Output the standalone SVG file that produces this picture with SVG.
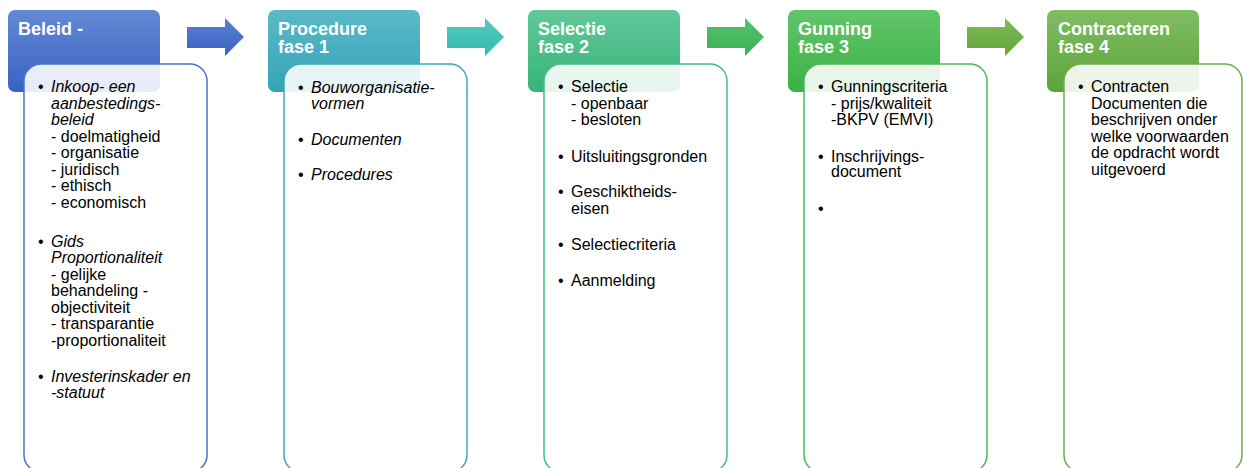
<svg xmlns="http://www.w3.org/2000/svg" width="1243" height="468" viewBox="0 0 1243 468">
<defs>
<linearGradient id="g1" x1="0" y1="0" x2="0" y2="1"><stop offset="0" stop-color="#6389d4"/><stop offset="1" stop-color="#3a62c2"/></linearGradient>
<linearGradient id="g2" x1="0" y1="0" x2="0" y2="1"><stop offset="0" stop-color="#5bb9c9"/><stop offset="1" stop-color="#33a4b5"/></linearGradient>
<linearGradient id="g3" x1="0" y1="0" x2="0" y2="1"><stop offset="0" stop-color="#63c89b"/><stop offset="1" stop-color="#35b479"/></linearGradient>
<linearGradient id="g4" x1="0" y1="0" x2="0" y2="1"><stop offset="0" stop-color="#63c56b"/><stop offset="1" stop-color="#39b143"/></linearGradient>
<linearGradient id="g5" x1="0" y1="0" x2="0" y2="1"><stop offset="0" stop-color="#81bc64"/><stop offset="1" stop-color="#5ca43a"/></linearGradient>
<linearGradient id="a1" x1="0" y1="0" x2="0" y2="1"><stop offset="0" stop-color="#5b82d2"/><stop offset="1" stop-color="#3a62c2"/></linearGradient>
<linearGradient id="a2" x1="0" y1="0" x2="0" y2="1"><stop offset="0" stop-color="#55c9c0"/><stop offset="1" stop-color="#34bcad"/></linearGradient>
<linearGradient id="a3" x1="0" y1="0" x2="0" y2="1"><stop offset="0" stop-color="#55c26f"/><stop offset="1" stop-color="#3cb053"/></linearGradient>
<linearGradient id="a4" x1="0" y1="0" x2="0" y2="1"><stop offset="0" stop-color="#80bb58"/><stop offset="1" stop-color="#64a53a"/></linearGradient>
<path id="arrow" d="M187,27 L225,27 L225,18 L244,37 L225,56 L225,48 L187,48 Z"/>
</defs>
<style>
.hd{stroke:none}
.body{fill:#ffffff;fill-opacity:0.88;stroke-width:1.5}
.ht{font-family:"Liberation Sans",Arial,sans-serif;font-size:18px;font-weight:bold;fill:#ffffff}
.bt{font-family:"Liberation Sans",Arial,sans-serif;font-size:16px;fill:#000000}
.it{font-style:italic}
</style>
<g id="connectors">
<use href="#arrow" fill="url(#a1)"/>
<use href="#arrow" fill="url(#a2)" transform="translate(260,0)"/>
<use href="#arrow" fill="url(#a3)" transform="translate(520,0)"/>
<use href="#arrow" fill="url(#a4)" transform="translate(780,0)"/>
</g>
<g id="beleid">
<rect class="hd" x="8" y="10" width="152" height="82" rx="7" fill="url(#g1)"/>
<text class="ht" x="18" y="35">Beleid -</text>
<rect class="body" x="24" y="64" width="183" height="408" rx="17" stroke="#4a74cc"/>
<g class="bt">
<text x="38" y="92">•</text>
<text x="51" y="92" class="it">Inkoop- een</text>
<text x="51" y="108.5" class="it">aanbestedings-</text>
<text x="51" y="125" class="it">beleid</text>
<text x="51" y="141.5">- doelmatigheid</text>
<text x="51" y="158">- organisatie</text>
<text x="51" y="174.5">- juridisch</text>
<text x="51" y="191">- ethisch</text>
<text x="51" y="207.5">- economisch</text>
<text x="38" y="246.5">•</text>
<text x="51" y="246.5" class="it">Gids</text>
<text x="51" y="263" class="it">Proportionaliteit</text>
<text x="51" y="279.5">- gelijke</text>
<text x="51" y="296">behandeling -</text>
<text x="51" y="312.5">objectiviteit</text>
<text x="51" y="329">- transparantie</text>
<text x="51" y="345.5">-proportionaliteit</text>
<text x="38" y="381.5">•</text>
<text x="51" y="381.5" class="it">Investerinskader en</text>
<text x="51" y="398" class="it">-statuut</text>
</g>
</g>
<g id="procedure">
<rect class="hd" x="268" y="10" width="152" height="82" rx="7" fill="url(#g2)"/>
<text class="ht" x="278" y="35">Procedure</text>
<text class="ht" x="278" y="53">fase 1</text>
<rect class="body" x="284" y="64" width="183" height="408" rx="17" stroke="#3eaabb"/>
<g class="bt">
<text x="298" y="93">•</text>
<text x="311" y="93" class="it">Bouworganisatie-</text>
<text x="311" y="109" class="it">vormen</text>
<text x="298" y="144.5">•</text>
<text x="311" y="144.5" class="it">Documenten</text>
<text x="298" y="180">•</text>
<text x="311" y="180" class="it">Procedures</text>
</g>
</g>
<g id="selectie">
<rect class="hd" x="528" y="10" width="152" height="82" rx="7" fill="url(#g3)"/>
<text class="ht" x="538" y="35">Selectie</text>
<text class="ht" x="538" y="53">fase 2</text>
<rect class="body" x="544" y="64" width="183" height="408" rx="17" stroke="#45bd86"/>
<g class="bt">
<text x="558" y="92">•</text>
<text x="571" y="92">Selectie</text>
<text x="571" y="108.5">- openbaar</text>
<text x="571" y="125">- besloten</text>
<text x="558" y="161.5">•</text>
<text x="571" y="161.5">Uitsluitingsgronden</text>
<text x="558" y="197">•</text>
<text x="571" y="197">Geschiktheids-</text>
<text x="571" y="213.5">eisen</text>
<text x="558" y="250">•</text>
<text x="571" y="250">Selectiecriteria</text>
<text x="558" y="285.5">•</text>
<text x="571" y="285.5">Aanmelding</text>
</g>
</g>
<g id="gunning">
<rect class="hd" x="788" y="10" width="152" height="82" rx="7" fill="url(#g4)"/>
<text class="ht" x="798" y="35">Gunning</text>
<text class="ht" x="798" y="53">fase 3</text>
<rect class="body" x="804" y="64" width="183" height="408" rx="17" stroke="#4cba55"/>
<g class="bt">
<text x="818" y="92">•</text>
<text x="831" y="92">Gunningscriteria</text>
<text x="831" y="108.5">- prijs/kwaliteit</text>
<text x="831" y="125">-BKPV (EMVI)</text>
<text x="818" y="161.5">•</text>
<text x="831" y="161.5">Inschrijvings-</text>
<text x="831" y="177">document</text>
<text x="818" y="214">•</text>
</g>
</g>
<g id="contracteren">
<rect class="hd" x="1047" y="10" width="152" height="82" rx="7" fill="url(#g5)"/>
<text class="ht" x="1058" y="35">Contracteren</text>
<text class="ht" x="1058" y="53">fase 4</text>
<rect class="body" x="1064" y="64" width="178" height="408" rx="17" stroke="#6cb049"/>
<g class="bt">
<text x="1078" y="92">•</text>
<text x="1091" y="92">Contracten</text>
<text x="1091" y="108.5">Documenten die</text>
<text x="1091" y="125">beschrijven onder</text>
<text x="1091" y="141.5">welke voorwaarden</text>
<text x="1091" y="158">de opdracht wordt</text>
<text x="1091" y="174.5">uitgevoerd</text>
</g>
</g>
</svg>
